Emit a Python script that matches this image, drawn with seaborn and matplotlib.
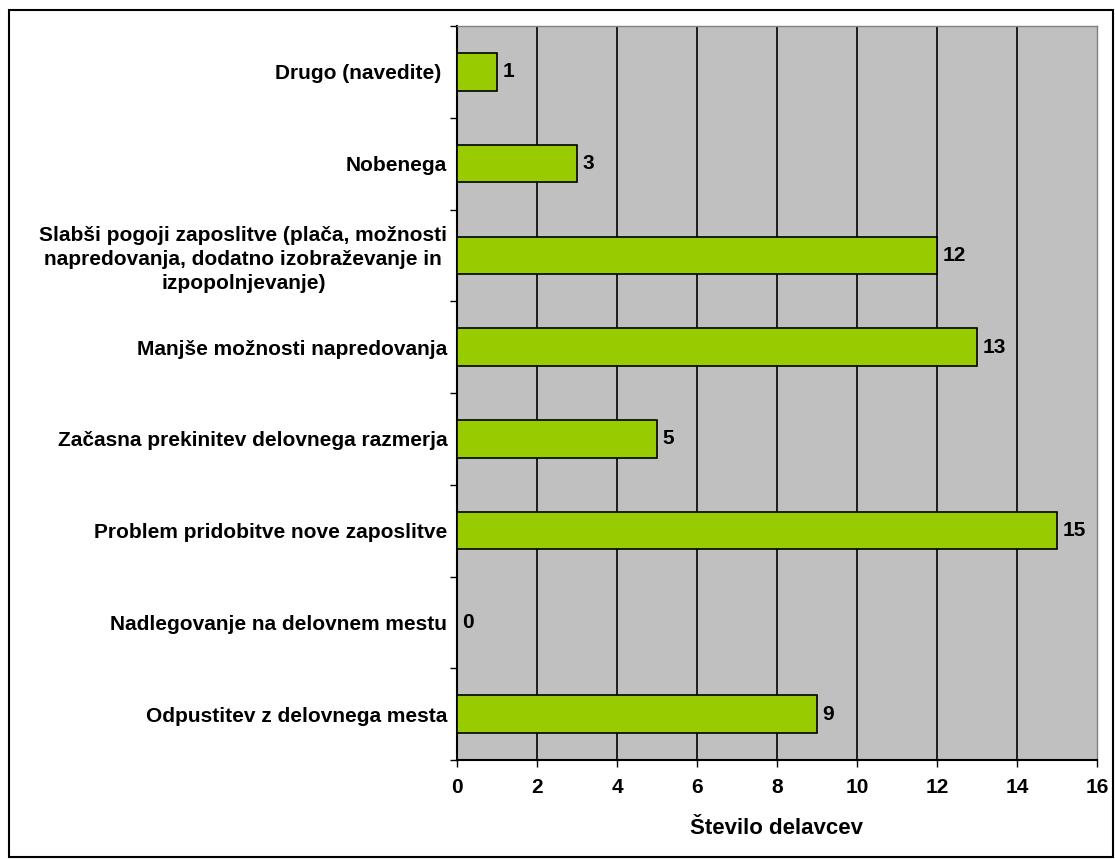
import matplotlib
matplotlib.use("Agg")
import matplotlib.pyplot as plt
import seaborn as sns
import pandas as pd
import numpy as np
from matplotlib.patches import Rectangle

categories = [
    "Drugo (navedite) ",
    "Nobenega",
    "Slabši pogoji zaposlitve (plača, možnosti\nnapredovanja, dodatno izobraževanje in\nizpopolnjevanje)",
    "Manjše možnosti napredovanja",
    "Začasna prekinitev delovnega razmerja",
    "Problem pridobitve nove zaposlitve",
    "Nadlegovanje na delovnem mestu",
    "Odpustitev z delovnega mesta",
]
values = [1, 3, 12, 13, 5, 15, 0, 9]
x_ticks = [0, 2, 4, 6, 8, 10, 12, 14, 16]
x_label = "Število delavcev"

sns.set_theme(style="white")
plt.rcParams['font.family'] = ['Liberation Sans', 'DejaVu Sans']
plt.rcParams['font.weight'] = 'bold'
plt.rcParams['text.color'] = 'black'
plt.rcParams['xtick.color'] = 'black'
plt.rcParams['ytick.color'] = 'black'
plt.rcParams['axes.labelcolor'] = 'black'

df = pd.DataFrame({"cat": categories, "val": values})

fig = plt.figure(figsize=(11.15, 8.59), dpi=100)
ax = fig.add_axes([457/1115, 1-760/859, (1097-457)/1115, (760-26)/859])
ax.set_facecolor("#C0C0C0")

sns.barplot(data=df, y="cat", x="val", orient="h", color="#99CC00",
            edgecolor="black", linewidth=1.2, width=0.41, saturation=1, ax=ax, zorder=3)

ax.set_xlim(0, 16)
ax.set_ylim(len(categories)-0.5, -0.5)
ax.set_xticks(x_ticks)
ax.set_xticklabels([str(t) for t in x_ticks], fontsize=15, fontweight='bold')
for t in x_ticks[1:-1]:
    ax.axvline(t, color="black", linewidth=1.2, zorder=1)

ax.set_yticks(range(len(categories)))
ax.set_yticklabels(categories, fontsize=15, fontweight='bold', multialignment='center')
for lbl in ax.get_yticklabels():
    lbl.set_linespacing(1.32)
ax.tick_params(axis='y', which='major', length=0, pad=7)
ax.set_yticks(np.arange(-0.5, len(categories), 1), minor=True)
ax.tick_params(axis='y', which='minor', length=5, width=1, color='black', direction='out', left=True)
ax.tick_params(axis='x', length=5, width=1, color='black', direction='out', bottom=True, pad=8)

ax.set_xlabel(x_label, fontsize=16, fontweight='bold', labelpad=15)
ax.set_ylabel("")

for s in ["top", "right"]:
    ax.spines[s].set_visible(True)
    ax.spines[s].set_color("#808080")
    ax.spines[s].set_linewidth(1)
for s in ["left", "bottom"]:
    ax.spines[s].set_visible(True)
    ax.spines[s].set_color("black")
    ax.spines[s].set_linewidth(1.5)

for i, v in enumerate(values):
    ax.annotate(str(v), xy=(v, i), xytext=(4, 0), textcoords="offset points",
                va="center", ha="left", fontsize=15, fontweight="bold", zorder=4)

fig.patches.append(Rectangle((9/1115, 2/859), 1104/1115, 847/859, transform=fig.transFigure,
                             fill=False, edgecolor="black", linewidth=1.5))

fig.savefig("out.png", dpi=100)
